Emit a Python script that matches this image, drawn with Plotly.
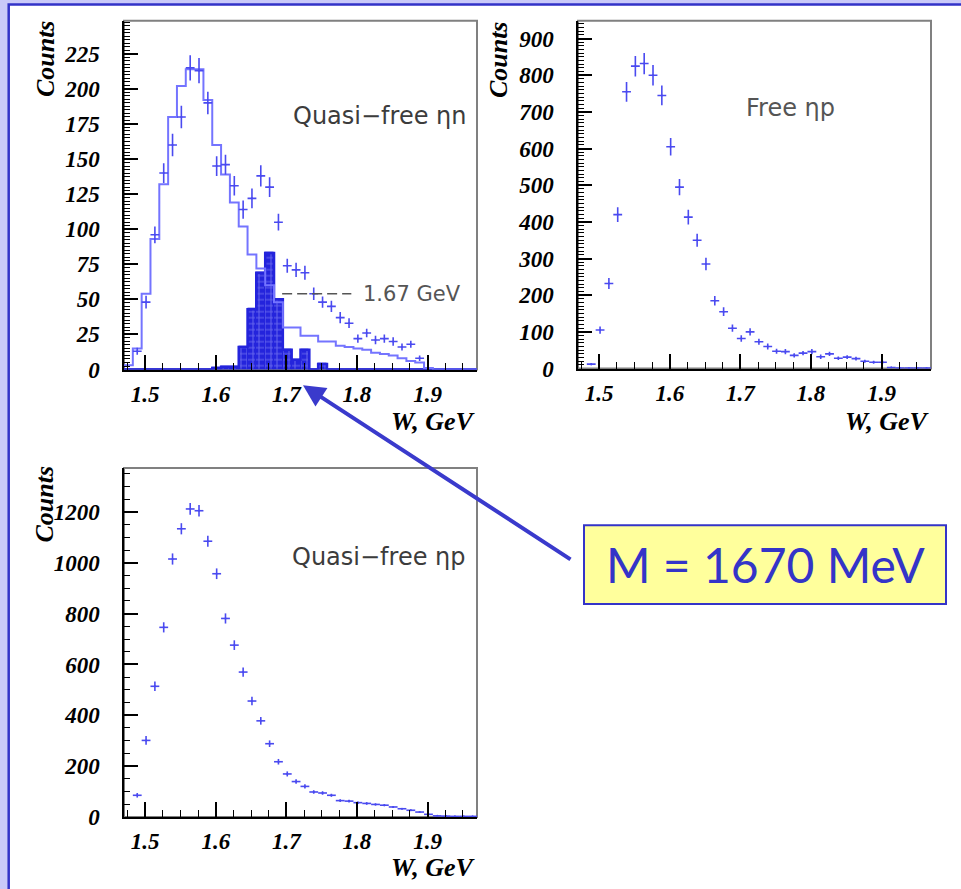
import numpy as np
import plotly.graph_objects as go

# ---------------------------------------------------------------------------
# Binning shared by all three W spectra: 1.47 - 1.97 GeV in 12.5 MeV bins
# ---------------------------------------------------------------------------
W_MIN, W_MAX, N_BINS = 1.47, 1.97, 40
BIN_W = (W_MAX - W_MIN) / N_BINS
w_edges = W_MIN + BIN_W * np.arange(N_BINS + 1)
w_centers = 0.5 * (w_edges[:-1] + w_edges[1:])

N = None

# Quasi-free eta n : measured counts (crosses) with statistical errors
eta_n_counts = [N, 13, 48, 96, 140, 160, 180, 215, 213, 190,
                145, 146, 131, 114, 122, 138, 130, 105, 74, 71,
                69, 54, 48, 45, 37, 33, 22, 26, 21, 22,
                20, 16, 18, 8, N, N, N, N, N, N]
eta_n_err = [N, 2.5, 4.5, 6, 7, 8, 8, 9, 9, 8,
             7, 7, 7, 6.5, 7, 7.5, 7, 6, 5, 5,
             5, 4.5, 4, 4, 4, 3.5, 3, 3, 3, 3,
             3, 2.5, 2.5, 2, N, N, N, N, N, N]
# Quasi-free eta n : simulated spectrum (open histogram)
eta_n_sim = [3, 15, 54, 93, 132, 180, 202, 214, 214, 192,
             160, 139, 119, 102, 82, 72, 60, 48, 30, 30,
             24, 24, 20, 20, 17, 16, 15, 14, 12, 11,
             10, 8, 6, 5, 1, 0, 0, 0, 0, 0]
# Quasi-free eta n : narrow-state contribution (hatched histogram)
eta_n_narrow = [0, 0, 0, 0, 0, 0, 0, 0, 0, 0,
                1, 2, 2, 16, 43, 69, 83, 50, 14, 7,
                14, 0, 4, 0, 0, 0, 0, 0, 0, 0,
                0, 0, 0, 0, 0, 0, 0, 0, 0, 0]

# Free eta p
free_p_counts = [N, 12, 105, 232, 420, 755, 825, 832, 800, 745,
                 605, 495, 413, 350, 285, 185, 155, 110, 82, 100,
                 73, 60, 47, 46, 36, 42, 46, 32, 40, 28,
                 31, 27, 20, 17, 17, 3, 1, 1, 1, 1]
free_p_err = [N, 3, 10, 15, 20, 27, 28, 29, 28, 27,
              24, 22, 20, 18, 17, 13, 12, 10, 9, 10,
              8, 8, 7, 7, 6, 6, 7, 6, 6, 5,
              5, 5, 4, 4, 4, 2, 1, 1, 1, 1]

# Quasi-free eta p
qf_p_counts = [N, 85, 301, 514, 746, 1015, 1134, 1212, 1205, 1085,
               957, 781, 676, 570, 456, 378, 288, 217, 169, 139,
               120, 98, 94, 85, 64, 62, 56, 53, 49, 46,
               39, 32, 26, 19, 10, 4, 3, 2, 2, 2]
qf_p_err = [N, 9, 17, 19, 20, 22, 22, 23, 23, 22,
            21, 20, 19, 18, 17, 15, 13, 11, 10, 9,
            8, 7, 7, 6, 5, 5, 5, 5, 4, 4,
            4, 3, 3, 3, 2, 1, 1, 1, 1, 1]

Y_TICKS_ETA_N = list(range(0, 226, 25))
Y_TICKS_FREE_P = list(range(0, 901, 100))
Y_TICKS_QF_P = list(range(0, 1201, 200))
X_TICKS = [1.5, 1.6, 1.7, 1.8, 1.9]

PEAK_LABEL = "1.67 GeV"
LEADER_W = [1.694, 1.792]
LEADER_Y = 54

# ---------------------------------------------------------------------------
W_PX, H_PX = 961, 889


def fx(x):
    return x / W_PX


def fy(y):
    return 1 - y / H_PX


CROSS = "#4a4af0"
SIM = "#7474ff"
HATCH = "#2424dc"
AXIS_FONT = dict(family="Liberation Serif", size=23, color="black",
                 weight="bold", style="italic")
TITLE_FONT = dict(family="Liberation Serif", size=26, color="black",
                  weight="bold", style="italic")
LABEL_FONT = dict(family="DejaVu Sans", size=24, color="#3c3c3c")

fig = go.Figure()


def crosses(counts, err, xa, ya):
    fig.add_trace(go.Scatter(
        x=w_centers, y=counts, mode="markers",
        marker=dict(size=2, color=CROSS),
        error_y=dict(type="data", array=err, visible=True,
                     thickness=1.6, width=0, color=CROSS),
        error_x=dict(type="constant", value=BIN_W / 2, visible=True,
                     thickness=1.6, width=0, color=CROSS),
        xaxis=xa, yaxis=ya, hoverinfo="x+y"))


# panel 1 : hatched narrow-state histogram
fig.add_trace(go.Bar(
    x=w_centers, y=eta_n_narrow, width=BIN_W,
    marker=dict(color=HATCH, line=dict(color=HATCH, width=1),
                pattern=dict(shape="+", fgcolor="#b4b4ff", bgcolor=HATCH,
                             size=6, solidity=0.28)),
    xaxis="x", yaxis="y"))
fig.add_trace(go.Scatter(
    x=w_edges, y=eta_n_narrow + [eta_n_narrow[-1]], mode="lines",
    line=dict(color=HATCH, width=2.5, shape="hv"),
    xaxis="x", yaxis="y", hoverinfo="skip"))
# panel 1 : simulated spectrum
fig.add_trace(go.Scatter(
    x=w_edges, y=eta_n_sim + [eta_n_sim[-1]], mode="lines",
    line=dict(color=SIM, width=2, shape="hv"),
    xaxis="x", yaxis="y", hoverinfo="skip"))
crosses(eta_n_counts, eta_n_err, "x", "y")
# leader line for the peak label
fig.add_trace(go.Scatter(
    x=LEADER_W, y=[LEADER_Y, LEADER_Y], mode="lines",
    line=dict(color="#555555", width=1.6, dash="10px,5px"),
    xaxis="x", yaxis="y", hoverinfo="skip"))

crosses(free_p_counts, free_p_err, "x2", "y2")
crosses(qf_p_counts, qf_p_err, "x3", "y3")


def xaxis_cfg(anchor, x0, x1):
    return dict(domain=[fx(x0), fx(x1)], anchor=anchor,
                range=[W_MIN, W_MAX], tickvals=X_TICKS,
                ticktext=[f"{v:.1f}" for v in X_TICKS],
                ticks="inside", ticklen=15, tickwidth=1.5, tickcolor="black",
                showline=True, linecolor="black", linewidth=1.5,
                showgrid=False, zeroline=False, tickfont=AXIS_FONT,
                ticklabelstandoff=3,
                minor=dict(tick0=1.5, dtick=0.025, ticks="inside", ticklen=7,
                           tickwidth=1, tickcolor="black", showgrid=False))


def yaxis_cfg(anchor, y_top_px, y_bot_px, top, ticks, minor):
    return dict(domain=[fy(y_bot_px), fy(y_top_px)], anchor=anchor,
                range=[0, top], tickvals=ticks,
                ticks="inside", ticklen=14, tickwidth=1.5, tickcolor="black",
                showline=True, linecolor="black", linewidth=1.5,
                showgrid=False, zeroline=False, tickfont=AXIS_FONT,
                ticklabelstandoff=18,
                minor=dict(tick0=0, dtick=minor, ticks="inside", ticklen=6,
                           tickwidth=1, tickcolor="black", showgrid=False))


fig.update_layout(
    width=W_PX, height=H_PX, autosize=False,
    margin=dict(l=0, r=0, t=0, b=0),
    paper_bgcolor="#c9c9f9", plot_bgcolor="white",
    showlegend=False, barmode="overlay", bargap=0,
    xaxis=xaxis_cfg("y", 124, 477),
    yaxis=yaxis_cfg("x", 21, 375, 248.6, Y_TICKS_ETA_N, 2.5),
    xaxis2=xaxis_cfg("y2", 578, 931),
    yaxis2=yaxis_cfg("x2", 21, 374, 949, Y_TICKS_FREE_P, 10),
    xaxis3=xaxis_cfg("y3", 124, 477),
    yaxis3=yaxis_cfg("x3", 475, 829, 1373, Y_TICKS_QF_P, 50),
)

shapes = [
    # slide background with its blue border
    dict(type="rect", xref="paper", yref="paper", layer="below",
         x0=fx(8.7), x1=1.05, y0=-0.05, y1=fy(4.5),
         fillcolor="white", line=dict(color="#3232c8", width=2.5)),
    # callout box
    dict(type="rect", xref="paper", yref="paper",
         x0=fx(584), x1=fx(946), y0=fy(613), y1=fy(533),
         fillcolor="#ffff9c", line=dict(color="#3434c8", width=2)),
]
for xr, yr in (("x", "y"), ("x2", "y2"), ("x3", "y3")):
    shapes.append(dict(type="rect", xref=f"{xr} domain", yref=f"{yr} domain",
                       x0=0, x1=1, y0=0, y1=1, layer="below",
                       line=dict(color="#808080", width=2)))
fig.update_layout(shapes=shapes)

ann = []


def text(x, y, s, font, xanchor="center", angle=0):
    ann.append(dict(xref="paper", yref="paper", x=fx(x), y=fy(y), text=s,
                    showarrow=False, font=font, xanchor=xanchor,
                    yanchor="middle", textangle=angle))


# axis titles
for cx, cy in ((45, 60), (498, 60), (45, 512)):
    text(cx, cy, "Counts", TITLE_FONT, angle=-90)
for rx, cy in ((478, 428), (932, 428), (478, 880)):
    text(rx, cy, "W, GeV", TITLE_FONT, xanchor="right")

# panel labels
text(379, 118, "Quasi\u2212free \u03b7n", LABEL_FONT)
text(790, 110, "Free \u03b7p", dict(LABEL_FONT, color="#555555"))
text(378, 565, "Quasi\u2212free \u03b7p", LABEL_FONT)
text(412, 298, PEAK_LABEL, dict(family="DejaVu Sans", size=21, color="#555555"))

# callout text and arrow
text(765, 573, "M = 1670 MeV", dict(family="Lato", size=48, color="#3434c8"))
ann.append(dict(xref="paper", yref="paper", x=fx(303), y=fy(391),
                ax=572 - 303, ay=566 - 391, axref="pixel", ayref="pixel",
                text="", showarrow=True, arrowhead=2, arrowsize=1.1,
                arrowwidth=4, arrowcolor="#3a3acc", standoff=0))
fig.update_layout(annotations=ann)

fig.write_html("out.html")
